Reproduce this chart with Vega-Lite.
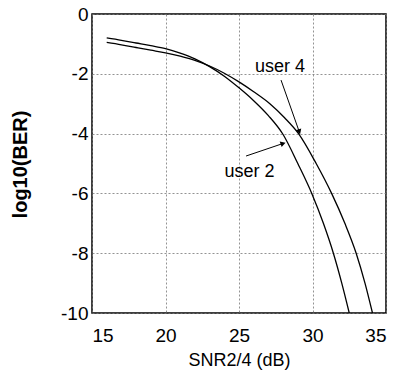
{
  "$schema": "https://vega.github.io/schema/vega-lite/v6.json",
  "width": 294,
  "height": 299,
  "autosize": {"type": "none"},
  "padding": {"left": 92, "top": 14, "right": 11, "bottom": 58},
  "background": "white",
  "config": {
    "view": {"stroke": "black", "strokeWidth": 1.5},
    "axis": {
      "domain": false,
      "ticks": false,
      "grid": true,
      "gridColor": "#777",
      "gridDash": [2, 2],
      "gridWidth": 0.8,
      "labelFont": "Liberation Sans",
      "labelFontSize": 19,
      "labelColor": "black",
      "titleFont": "Liberation Sans",
      "titleColor": "black"
    },
    "text": {"font": "Liberation Sans"}
  },
  "datasets": {
    "curves": [
      {"user": "user 2", "snr": 16, "ber": -0.80},
      {"user": "user 2", "snr": 17, "ber": -0.88},
      {"user": "user 2", "snr": 18, "ber": -0.97},
      {"user": "user 2", "snr": 19, "ber": -1.06},
      {"user": "user 2", "snr": 20, "ber": -1.16},
      {"user": "user 2", "snr": 21, "ber": -1.31},
      {"user": "user 2", "snr": 22, "ber": -1.50},
      {"user": "user 2", "snr": 23, "ber": -1.76},
      {"user": "user 2", "snr": 24, "ber": -2.08},
      {"user": "user 2", "snr": 25, "ber": -2.47},
      {"user": "user 2", "snr": 26, "ber": -2.90},
      {"user": "user 2", "snr": 27, "ber": -3.40},
      {"user": "user 2", "snr": 28.0, "ber": -4.03},
      {"user": "user 2", "snr": 29.0, "ber": -5.0},
      {"user": "user 2", "snr": 29.95, "ber": -6.0},
      {"user": "user 2", "snr": 30.74, "ber": -7.0},
      {"user": "user 2", "snr": 31.42, "ber": -8.0},
      {"user": "user 2", "snr": 31.99, "ber": -9.0},
      {"user": "user 2", "snr": 32.5, "ber": -10.0},
      {"user": "user 4", "snr": 16, "ber": -0.95},
      {"user": "user 4", "snr": 17, "ber": -1.03},
      {"user": "user 4", "snr": 18, "ber": -1.12},
      {"user": "user 4", "snr": 19, "ber": -1.21},
      {"user": "user 4", "snr": 20, "ber": -1.30},
      {"user": "user 4", "snr": 21, "ber": -1.41},
      {"user": "user 4", "snr": 22, "ber": -1.55},
      {"user": "user 4", "snr": 23, "ber": -1.74},
      {"user": "user 4", "snr": 24, "ber": -1.98},
      {"user": "user 4", "snr": 25, "ber": -2.27},
      {"user": "user 4", "snr": 26, "ber": -2.60},
      {"user": "user 4", "snr": 27.1, "ber": -3.0},
      {"user": "user 4", "snr": 28.1, "ber": -3.47},
      {"user": "user 4", "snr": 29.05, "ber": -4.0},
      {"user": "user 4", "snr": 30.25, "ber": -5.0},
      {"user": "user 4", "snr": 31.3, "ber": -6.0},
      {"user": "user 4", "snr": 32.2, "ber": -7.0},
      {"user": "user 4", "snr": 32.97, "ber": -8.0},
      {"user": "user 4", "snr": 33.57, "ber": -9.0},
      {"user": "user 4", "snr": 34.08, "ber": -10.0}
    ],
    "labels": [
      {"label": "user 4", "x": 27.79, "y": -1.95},
      {"label": "user 2", "x": 25.71, "y": -5.45}
    ],
    "arrows": [
      {"label": "user 4", "x": 27.86, "y": -2.21, "x2": 29.1, "y2": -3.94},
      {"label": "user 2", "x": 25.48, "y": -4.75, "x2": 28.0, "y2": -4.33}
    ]
  },
  "layer": [
    {
      "data": {"name": "curves"},
      "mark": {"type": "line", "color": "black", "strokeWidth": 1.3, "interpolate": "monotone", "clip": true},
      "encoding": {
        "x": {
          "field": "snr", "type": "quantitative",
          "scale": {"domain": [15, 35], "nice": false, "zero": false},
          "axis": {"values": [15, 20, 25, 30, 35], "title": "SNR2/4 (dB)", "titleFontSize": 18, "titleFontWeight": "normal", "labelPadding": 13, "titleX": 147, "titleY": 52, "titleBaseline": "alphabetic", "titleAnchor": "middle", "titleAlign": "center"}
        },
        "y": {
          "field": "ber", "type": "quantitative",
          "scale": {"domain": [-10, 0], "nice": false, "zero": false},
          "axis": {"values": [0, -2, -4, -6, -8, -10], "labelExpr": "'' + datum.value", "title": "log10(BER)", "titleFontSize": 20, "titleFontWeight": "bold", "labelPadding": 4, "titleX": -72, "titleY": 150, "titleAngle": 270, "titleAlign": "center", "titleBaseline": "middle"}
        },
        "detail": {"field": "user", "type": "nominal"}
      }
    },
    {
      "data": {"name": "arrows"},
      "mark": {"type": "rule", "color": "black", "strokeWidth": 1},
      "encoding": {
        "x": {"field": "x", "type": "quantitative"},
        "y": {"field": "y", "type": "quantitative"},
        "x2": {"field": "x2"},
        "y2": {"field": "y2"}
      }
    },
    {
      "data": {"name": "arrows"},
      "transform": [{"filter": "datum.label === 'user 4'"}],
      "mark": {"type": "point", "shape": "triangle-up", "filled": true, "color": "black", "opacity": 1, "size": 35, "angle": 161},
      "encoding": {
        "x": {"field": "x2", "type": "quantitative"},
        "y": {"field": "y2", "type": "quantitative"}
      }
    },
    {
      "data": {"name": "arrows"},
      "transform": [{"filter": "datum.label === 'user 2'"}],
      "mark": {"type": "point", "shape": "triangle-up", "filled": true, "color": "black", "opacity": 1, "size": 35, "angle": 71},
      "encoding": {
        "x": {"field": "x2", "type": "quantitative"},
        "y": {"field": "y2", "type": "quantitative"}
      }
    },
    {
      "data": {"name": "labels"},
      "mark": {"type": "text", "fontSize": 18, "color": "black", "align": "center", "baseline": "alphabetic"},
      "encoding": {
        "x": {"field": "x", "type": "quantitative"},
        "y": {"field": "y", "type": "quantitative"},
        "text": {"field": "label"}
      }
    }
  ]
}
